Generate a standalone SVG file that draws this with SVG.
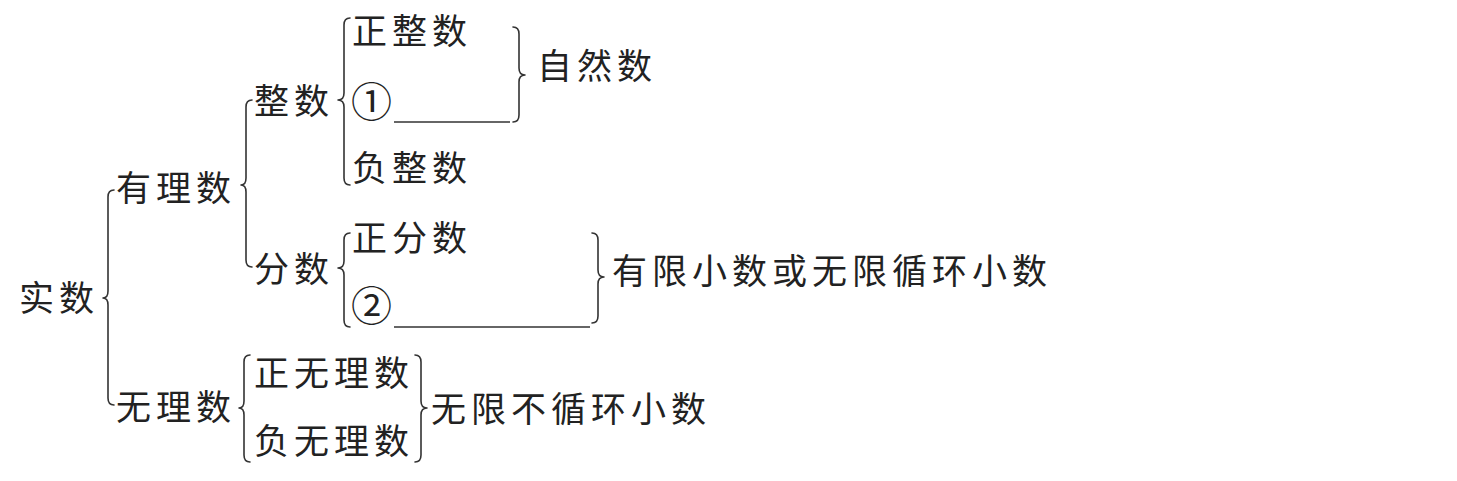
<svg xmlns="http://www.w3.org/2000/svg" width="1457" height="481" viewBox="0 0 1457 481">
<style>
text{font-family:"Noto Sans CJK SC","Noto Sans",sans-serif;font-size:35px;letter-spacing:5px;fill:#222;dominant-baseline:central}
.c{font-size:41px}
.b{fill:none;stroke:#333;stroke-width:1.6;stroke-linecap:round;stroke-linejoin:round}
.u{stroke:#333;stroke-width:1.6}
</style>
<rect width="1457" height="481" fill="#fff"/>
<g id="connectors">
<path class="b" d="M114,190 Q108,190 108,197 V291 Q108,298 103,298 Q108,298 108,305 V398 Q108,405 114,405"/>
<path class="b" d="M252,100 Q246,100 246,107 V178 Q246,185 241,185 Q246,185 246,192 V260 Q246,267 252,267"/>
<path class="b" d="M350,18 Q344,18 344,25 V93 Q344,100 338,100 Q344,100 344,107 V178 Q344,185 350,185"/>
<path class="b" d="M350,233 Q344,233 344,240 V261 Q344,268 338,268 Q344,268 344,275 V320 Q344,327 350,327"/>
<path class="b" d="M250,355 Q244,355 244,362 V401 Q244,408 239,408 Q244,408 244,415 V455 Q244,462 250,462"/>
<path class="b" d="M513,27 Q519,27 519,34 V68 Q519,75 525,75 Q519,75 519,82 V115 Q519,122 513,122"/>
<path class="b" d="M592,233 Q598,233 598,240 V270 Q598,277 604,277 Q598,277 598,284 V316 Q598,323 592,323"/>
<path class="b" d="M415,355 Q421,355 421,362 V401 Q421,408 427,408 Q421,408 421,415 V455 Q421,462 415,462"/>
<line class="u" x1="394" y1="122" x2="510" y2="122"/>
<line class="u" x1="394" y1="327" x2="590" y2="327"/>
</g>
<g id="n-shishu"><text x="19" y="295">实数</text></g>
<g id="n-youlishu"><text x="116" y="185">有理数</text></g>
<g id="n-wulishu"><text x="116" y="404">无理数</text></g>
<g id="n-zhengshu"><text x="254" y="98">整数</text></g>
<g id="n-fenshu"><text x="254" y="266">分数</text></g>
<g id="n-zhengzhengshu"><text x="352" y="28">正整数</text></g>
<g id="n-blank1"><text class="c" x="351" y="99">①</text></g>
<g id="n-fuzhengshu"><text x="352" y="165">负整数</text></g>
<g id="n-ziranshu"><text x="537" y="63">自然数</text></g>
<g id="n-zhengfenshu"><text x="352" y="235">正分数</text></g>
<g id="n-blank2"><text class="c" x="351" y="303">②</text></g>
<g id="n-youxian"><text x="612" y="268">有限小数或无限循环小数</text></g>
<g id="n-zhengwuli"><text x="254" y="370">正无理数</text></g>
<g id="n-fuwuli"><text x="254" y="438">负无理数</text></g>
<g id="n-wuxianbu"><text x="431" y="406">无限不循环小数</text></g>
</svg>
